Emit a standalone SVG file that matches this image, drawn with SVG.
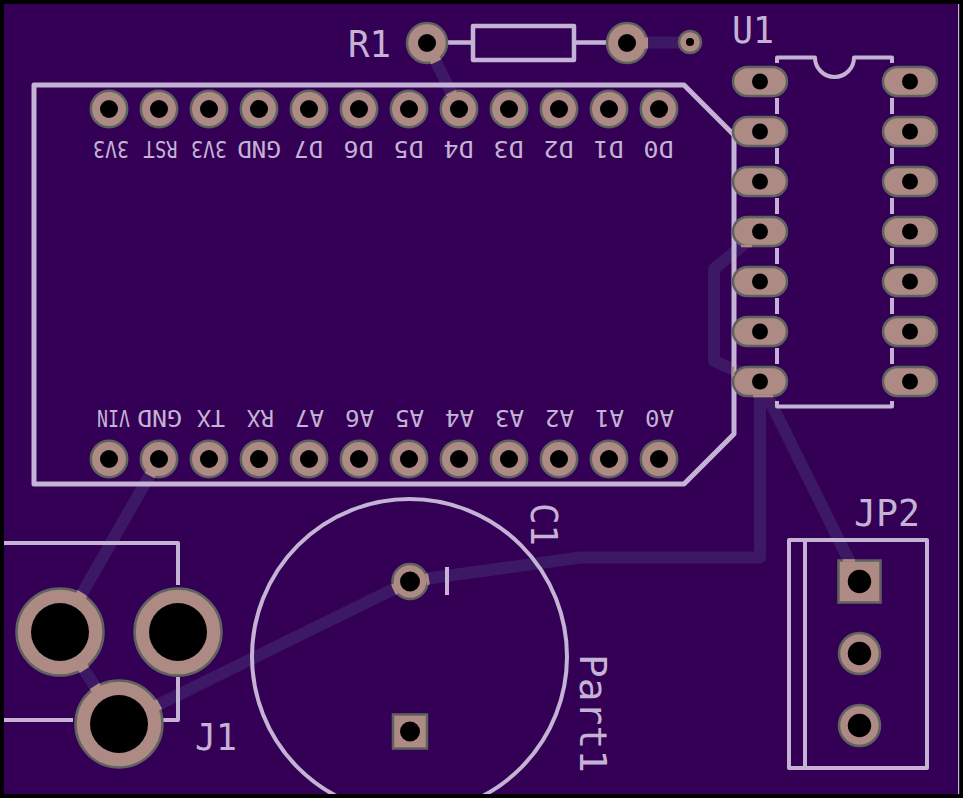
<svg xmlns="http://www.w3.org/2000/svg" width="963" height="798" viewBox="0 0 963 798">
<style>
.silk{fill:none;stroke:#c4b3d4;stroke-width:4.5;stroke-linejoin:round;stroke-linecap:butt}
.thick{stroke-width:5}
.thin{stroke-width:4}
.trace{fill:none;stroke:#3d1864;stroke-width:12;stroke-linejoin:round;stroke-linecap:butt}
.stub{fill:none;stroke:#ae8a85;stroke-width:11;stroke-linecap:butt}
.edge{fill:none;stroke:#ae8a85;stroke-width:2.500}
.pad{fill:#ae8a85;stroke:#5f635f;stroke-width:2.5}
.hole{fill:#000}
text{font-family:"DejaVu Sans Mono","Liberation Mono",monospace;fill:#c4b3d4;text-anchor:middle}
.s{font-size:23px}
.l{font-size:37px}
</style>
<defs>
<clipPath id="boardClip"><rect x="4" y="4" width="954" height="790"/></clipPath>
<g id="pin"><circle class="pad" r="18.2"/><circle class="hole" r="9"/></g>
<g id="big"><circle class="pad" r="20"/><circle class="hole" r="9"/></g>
<g id="oval"><rect class="pad" x="-27" y="-14.5" width="54" height="29" rx="14.5"/><circle class="hole" r="8"/></g>
<g id="jack"><circle class="pad" r="43.5"/><circle class="hole" r="29"/></g>
</defs>
<rect width="963" height="798" fill="#000"/>
<rect x="4" y="4" width="954" height="790" fill="#330055"/>
<rect x="958" y="4" width="1.2" height="790" fill="#c4b3d4"/>

<g id="connectors">
<path class="trace" d="M427 43L459 109"/>
<path class="trace" d="M627 42.500H690"/>
<path class="trace" d="M760 231L714 269V361L760 381"/>
<path class="trace" d="M760 381V557.500H580L410 581L119 724"/>
<path class="trace" d="M760 381L859.500 581.500"/>
<path class="trace" d="M159 459L60 632L119 724"/>
</g>

<g id="A1">
<path class="silk thick" d="M34 85H684L734 135V434L684 484H34Z"/>
<use href="#pin" x="109" y="109"/><use href="#pin" x="159" y="109"/><use href="#pin" x="209" y="109"/><use href="#pin" x="259" y="109"/><use href="#pin" x="309" y="109"/><use href="#pin" x="359" y="109"/><use href="#pin" x="409" y="109"/><use href="#pin" x="459" y="109"/><use href="#pin" x="509" y="109"/><use href="#pin" x="559" y="109"/><use href="#pin" x="609" y="109"/><use href="#pin" x="659" y="109"/>
<use href="#pin" x="109" y="459"/><use href="#pin" x="159" y="459"/><use href="#pin" x="209" y="459"/><use href="#pin" x="259" y="459"/><use href="#pin" x="309" y="459"/><use href="#pin" x="359" y="459"/><use href="#pin" x="409" y="459"/><use href="#pin" x="459" y="459"/><use href="#pin" x="509" y="459"/><use href="#pin" x="559" y="459"/><use href="#pin" x="609" y="459"/><use href="#pin" x="659" y="459"/>
<g class="s">
<text transform="translate(111,140.500) rotate(180)" textLength="36" lengthAdjust="spacingAndGlyphs">3V3</text>
<text transform="translate(160.500,140.500) rotate(180)" textLength="34" lengthAdjust="spacingAndGlyphs">RST</text>
<text transform="translate(209,140.500) rotate(180)" textLength="36" lengthAdjust="spacingAndGlyphs">3V3</text>
<text transform="translate(259,140.500) rotate(180)" textLength="44" lengthAdjust="spacingAndGlyphs">GND</text>
<text transform="translate(308.500,140.500) rotate(180)" textLength="29" lengthAdjust="spacingAndGlyphs">D7</text>
<text transform="translate(358.500,140.500) rotate(180)" textLength="30" lengthAdjust="spacingAndGlyphs">D6</text>
<text transform="translate(408.500,140.500) rotate(180)" textLength="30" lengthAdjust="spacingAndGlyphs">D5</text>
<text transform="translate(458.500,140.500) rotate(180)" textLength="30" lengthAdjust="spacingAndGlyphs">D4</text>
<text transform="translate(508.500,140.500) rotate(180)" textLength="30" lengthAdjust="spacingAndGlyphs">D3</text>
<text transform="translate(558.500,140.500) rotate(180)" textLength="30" lengthAdjust="spacingAndGlyphs">D2</text>
<text transform="translate(608.500,140.500) rotate(180)" textLength="30" lengthAdjust="spacingAndGlyphs">D1</text>
<text transform="translate(658.500,140.500) rotate(180)" textLength="30" lengthAdjust="spacingAndGlyphs">D0</text>
<text transform="translate(113.500,410) rotate(180)" textLength="33" lengthAdjust="spacingAndGlyphs">VIN</text>
<text transform="translate(159.500,410) rotate(180)" textLength="45" lengthAdjust="spacingAndGlyphs">GND</text>
<text transform="translate(211,410) rotate(180)" textLength="28" lengthAdjust="spacingAndGlyphs">TX</text>
<text transform="translate(260.500,410) rotate(180)" textLength="27" lengthAdjust="spacingAndGlyphs">RX</text>
<text transform="translate(309.500,410) rotate(180)" textLength="29" lengthAdjust="spacingAndGlyphs">A7</text>
<text transform="translate(359.500,410) rotate(180)" textLength="29" lengthAdjust="spacingAndGlyphs">A6</text>
<text transform="translate(409.500,410) rotate(180)" textLength="29" lengthAdjust="spacingAndGlyphs">A5</text>
<text transform="translate(459.500,410) rotate(180)" textLength="29" lengthAdjust="spacingAndGlyphs">A4</text>
<text transform="translate(509.500,410) rotate(180)" textLength="29" lengthAdjust="spacingAndGlyphs">A3</text>
<text transform="translate(559.500,410) rotate(180)" textLength="29" lengthAdjust="spacingAndGlyphs">A2</text>
<text transform="translate(609.500,410) rotate(180)" textLength="29" lengthAdjust="spacingAndGlyphs">A1</text>
<text transform="translate(659.500,410) rotate(180)" textLength="29" lengthAdjust="spacingAndGlyphs">A0</text>
</g>
</g>

<g id="R1">
<path class="silk" d="M447 42.500H473M574 42.500H607"/>
<rect class="silk" x="473" y="26" width="101" height="34"/>
<use href="#big" x="427" y="43"/><use href="#big" x="627" y="43"/>
<text class="l" x="369.500" y="57" textLength="43" lengthAdjust="spacingAndGlyphs">R1</text>
</g>

<g id="via">
<circle class="pad" cx="690" cy="42" r="11"/><circle class="hole" cx="690" cy="42" r="4"/>
</g>

<g id="U1">
<path class="silk thin" d="M777 63V57.500H815A19.500 19.500 0 0 0 854 57.500H892V63M777 98V114M777 148V164M777 198V214M777 248V264M777 298V314M777 348V364M892 98V114M892 148V164M892 198V214M892 248V264M892 298V314M892 348V364M777 401V406.500H892V401"/>
<use href="#oval" x="760" y="81.500"/><use href="#oval" x="760" y="131.500"/><use href="#oval" x="760" y="181.500"/><use href="#oval" x="760" y="231.500"/><use href="#oval" x="760" y="281.500"/><use href="#oval" x="760" y="331.500"/><use href="#oval" x="760" y="381.500"/>
<use href="#oval" x="910" y="81.500"/><use href="#oval" x="910" y="131.500"/><use href="#oval" x="910" y="181.500"/><use href="#oval" x="910" y="231.500"/><use href="#oval" x="910" y="281.500"/><use href="#oval" x="910" y="331.500"/><use href="#oval" x="910" y="381.500"/>
<text class="l" x="753" y="43" textLength="42" lengthAdjust="spacingAndGlyphs">U1</text>
</g>

<g id="J1">
<path class="silk thin" d="M4 543H178V585M178 677V720H160M4 720H73"/>
<use href="#jack" x="60" y="632"/><use href="#jack" x="178" y="632"/><use href="#jack" x="119" y="724"/>
<text class="l" x="216" y="750" textLength="42" lengthAdjust="spacingAndGlyphs">J1</text>
</g>

<g id="C1">
<circle class="silk thin" cx="409.500" cy="656.500" r="157.500" clip-path="url(#boardClip)"/>
<path class="silk thin" d="M447 567V595"/>
<circle class="pad" cx="410" cy="581.500" r="17.500"/><circle class="hole" cx="410" cy="581.500" r="10"/>
<rect class="pad" x="393" y="714.500" width="34" height="34"/><circle class="hole" cx="410" cy="731.500" r="10"/>
<text class="l" transform="translate(531,524.500) rotate(90)" textLength="43" lengthAdjust="spacingAndGlyphs">C1</text>
<text class="l" transform="translate(580,713.500) rotate(90)" textLength="119" lengthAdjust="spacingAndGlyphs">Part1</text>
</g>

<g id="JP2">
<path class="silk thin" d="M789 540H927V768H789ZM805 540V768"/>
<rect class="pad" x="838.500" y="560.500" width="42" height="42"/><circle class="hole" cx="859.500" cy="581.500" r="11.700"/>
<circle class="pad" cx="859.500" cy="653.500" r="20.500"/><circle class="hole" cx="859.500" cy="653.500" r="11.700"/>
<circle class="pad" cx="859.500" cy="725.500" r="20.500"/><circle class="hole" cx="859.500" cy="725.500" r="11.700"/>
<text class="l" x="887" y="526" textLength="66" lengthAdjust="spacingAndGlyphs">JP2</text>
</g>

<g id="trace-joins">
<path class="stub" d="M434.400 58.300L436.200 61.900M451.800 94.200L451 92.400M645 43H648M80 597L82.500 593M82 666L84.500 670M97 690L94.500 686M155 706.500L159.500 704M151 473L149.700 475.500M426 579.500L429 579M396 588.500L393.500 589.700"/>
<path class="edge" d="M741 246H752M753 396H773M843 560.500H855M733 366.500V376"/>
</g>
</svg>
